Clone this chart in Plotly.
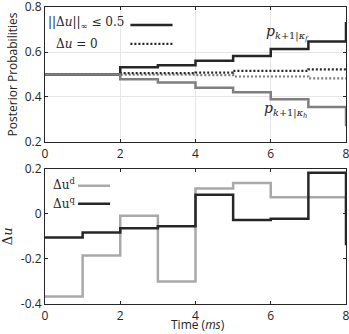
import plotly.graph_objects as go

time = [0, 1, 2, 3, 4, 5, 6, 7, 8]
pf_constrained = [0.5, 0.5, 0.532, 0.541, 0.561, 0.582, 0.613, 0.647, 0.733]
ph_constrained = [0.5, 0.5, 0.479, 0.464, 0.441, 0.421, 0.390, 0.356, 0.270]
pf_zero = [0.5, 0.5, 0.506, 0.506, 0.508, 0.516, 0.516, 0.523, 0.523]
ph_zero = [0.5, 0.5, 0.499, 0.499, 0.497, 0.491, 0.491, 0.483, 0.483]
du_d = [-0.367, -0.185, -0.009, -0.300, 0.111, 0.136, 0.073, 0.073, 0.002]
du_q = [-0.105, -0.083, -0.064, -0.056, 0.084, -0.028, -0.022, 0.181, -0.140]

DARK = "#262626"
MID = "#7f7f7f"
LIGHT = "#a9a9a9"
SERIF = "DejaVu Serif"
SANS = "Open Sans"

fig = go.Figure()
# top panel: dotted (Δu = 0) first, then solid
fig.add_trace(go.Scatter(x=time, y=ph_zero, mode="lines", line=dict(color=MID, width=2.2, dash="2px,2px", shape="hv"), xaxis="x", yaxis="y", showlegend=False, cliponaxis=False))
fig.add_trace(go.Scatter(x=time, y=pf_zero, mode="lines", line=dict(color=DARK, width=2.2, dash="2px,2px", shape="hv"), xaxis="x", yaxis="y", showlegend=False, cliponaxis=False))
fig.add_trace(go.Scatter(x=time, y=pf_constrained, mode="lines", line=dict(color=DARK, width=2.5, shape="hv"), xaxis="x", yaxis="y", showlegend=False, cliponaxis=False))
fig.add_trace(go.Scatter(x=time, y=ph_constrained, mode="lines", line=dict(color=MID, width=2.5, shape="hv"), xaxis="x", yaxis="y", showlegend=False, cliponaxis=False))
# bottom panel
fig.add_trace(go.Scatter(x=time, y=du_d, mode="lines", line=dict(color=LIGHT, width=2.5, shape="hv"), xaxis="x2", yaxis="y2", showlegend=False, cliponaxis=False))
fig.add_trace(go.Scatter(x=time, y=du_q, mode="lines", line=dict(color=DARK, width=2.5, shape="hv"), xaxis="x2", yaxis="y2", showlegend=False, cliponaxis=False))

axis_common = dict(showline=True, linecolor="#262626", linewidth=1, mirror="ticks", ticks="inside",
                   ticklen=3, tickcolor="#262626", tickfont=dict(family=SANS, size=12, color="#262626"),
                   zeroline=False, automargin=False, ticklabeloverflow="allow")

fig.update_layout(
    width=349, height=334,
    margin=dict(l=45, r=3, t=7, b=30),
    paper_bgcolor="white", plot_bgcolor="white",
    xaxis=dict(domain=[0, 1], range=[0, 8], tickvals=[0, 2, 4, 6, 8], showgrid=True, gridcolor="#e6e6e6",
               anchor="y", ticklabelstandoff=1, **axis_common),
    yaxis=dict(domain=[0.5455, 1.0], range=[0.2, 0.8], tickvals=[0.2, 0.4, 0.6, 0.8], tickformat=".1f",
               showgrid=True, gridcolor="#e6e6e6", anchor="x",
               title=dict(text="Posterior Probabilities", font=dict(family=SANS, size=12, color="#262626"), standoff=4),
               **axis_common),
    xaxis2=dict(domain=[0, 1], range=[0, 8], tickvals=[0, 2, 4, 6, 8], showgrid=False, anchor="y2",
                ticklabelstandoff=1, **axis_common),
    yaxis2=dict(domain=[0, 0.4562], range=[-0.4, 0.2], tickvals=[-0.4, -0.2, 0, 0.2],
                ticktext=["-0.4", "-0.2", "0", "0.2"], showgrid=False, anchor="x2",
                title=dict(text="Δ<i>u</i>", font=dict(family=SERIF, size=13, color="#262626"), standoff=8),
                **axis_common),
)

ann = []
shapes = []
# x title of bottom panel (sits close to the tick labels as in the reference)
ann.append(dict(x=0.508, y=-0.07, xref="paper", yref="paper", text="Time (<i>ms</i>)", showarrow=False,
                xanchor="center", yanchor="middle", font=dict(family=SANS, size=12, color="#262626")))
# top legend
ann.append(dict(x=0.03, y=0.728, xref="x", yref="y", text="||Δ<i>u</i>||<sub>∞</sub> ≤ 0.5", showarrow=False,
                xanchor="left", yanchor="middle", font=dict(family=SERIF, size=12, color="#262626")))
ann.append(dict(x=0.25, y=0.636, xref="x", yref="y", text="Δ<i>u</i> = 0", showarrow=False,
                xanchor="left", yanchor="middle", font=dict(family=SERIF, size=12, color="#262626")))
shapes.append(dict(type="line", xref="x", yref="y", x0=2.27, x1=3.39, y0=0.72, y1=0.72,
                   line=dict(color=DARK, width=2.5)))
shapes.append(dict(type="line", xref="x", yref="y", x0=2.27, x1=3.39, y0=0.636, y1=0.636,
                   line=dict(color=DARK, width=2.2, dash="2px,2px")))
# curve labels
ann.append(dict(x=6.45, y=0.684, xref="x", yref="y",
                text="<i>p</i><sub><i>k</i>+1|<i>κ</i><sub><i>f</i></sub></sub>", showarrow=False,
                xanchor="center", yanchor="middle", font=dict(family=SERIF, size=14, color="#262626")))
ann.append(dict(x=6.4, y=0.34, xref="x", yref="y",
                text="<i>p</i><sub><i>k</i>+1|<i>κ</i><sub><i>h</i></sub></sub>", showarrow=False,
                xanchor="center", yanchor="middle", font=dict(family=SERIF, size=14, color="#262626")))
# bottom legend
ann.append(dict(x=0.17, y=0.13, xref="x2", yref="y2", text="Δu<sup>d</sup>", showarrow=False,
                xanchor="left", yanchor="middle", font=dict(family=SERIF, size=12, color="#262626")))
ann.append(dict(x=0.17, y=0.048, xref="x2", yref="y2", text="Δu<sup>q</sup>", showarrow=False,
                xanchor="left", yanchor="middle", font=dict(family=SERIF, size=12, color="#262626")))
shapes.append(dict(type="line", xref="x2", yref="y2", x0=0.88, x1=1.73, y0=0.124, y1=0.124,
                   line=dict(color=LIGHT, width=2.5)))
shapes.append(dict(type="line", xref="x2", yref="y2", x0=0.88, x1=1.73, y0=0.044, y1=0.044,
                   line=dict(color=DARK, width=2.5)))

fig.update_layout(annotations=ann, shapes=shapes)
fig.write_html("out.html", config={"displayModeBar": False},
               post_script="document.body.style.margin='0px';")
